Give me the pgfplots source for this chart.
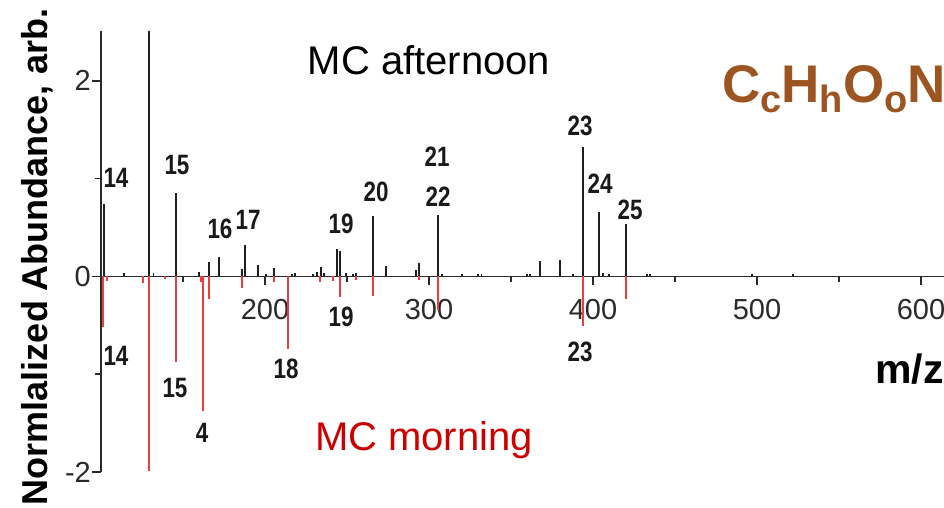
\documentclass[border=0pt]{standalone}
\usepackage{pgfplots}
\pgfplotsset{compat=1.18}
\usepackage{fontspec}
\setmainfont{Liberation Sans}
\newfontfamily\pk[FakeStretch=0.8]{Liberation Sans}
\definecolor{pkred}{RGB}{240,60,60}
\definecolor{mcred}{HTML}{CC0000}
\definecolor{chbrown}{HTML}{9C5520}
\definecolor{axgray}{HTML}{2A2A2A}
\begin{document}
\begin{tikzpicture}[x=1pt,y=1pt]
\path[use as bounding box] (0,0) rectangle (944,507);
\begin{axis}[
  at={(101pt,35pt)}, anchor=south west,
  scale only axis, width=843pt, height=441pt,
  xmin=100, xmax=614, ymin=-2, ymax=2.51,
  axis x line*=middle, axis y line*=left,
  xtick={200,300,400,500,600},
  minor xtick={150,250,350,450,550},
  ytick={-2,0,2}, minor ytick={-1,1},
  tick align=outside,
  major tick length=9pt, minor tick length=6pt,
  axis line style={axgray, line width=1.8pt},
  every tick/.style={axgray, line width=1.5pt},
  tick label style={font=\fontsize{29}{29}\selectfont, text=axgray},
  /pgf/number format/assume math mode=true,
  yticklabel style={inner sep=1pt},
  xticklabel style={inner sep=2pt, yshift=-12pt},
]
\addplot[ycomb, no marks, draw=black!88, line width=1.9pt] coordinates {
(101.8,0.74) (114,0.04) (129.5,2.51) (132,0.04) (145.5,0.85) (160,0.05)
(165.9,0.15) (171.7,0.20) (185.8,0.08) (187.8,0.32) (195.7,0.115)
(200.5,0.03) (205.7,0.09) (216.5,0.03) (218.3,0.04) (229.5,0.03)
(231.5,0.05) (234,0.10) (236,0.04) (243.7,0.28) (245.7,0.26)
(249.4,0.04) (253.5,0.03) (255.5,0.04) (266,0.62) (273.8,0.105)
(291.9,0.065) (293.9,0.14) (305.7,0.63) (308,0.03) (320,0.02)
(330,0.02) (332,0.02) (359.6,0.03) (361.6,0.03) (367.7,0.157)
(379.9,0.167) (388,0.02) (394.1,1.32) (403.9,0.66) (406,0.04)
(410,0.03) (419.9,0.54) (433,0.02) (435,0.02) (496.7,0.02) (522,0.02)
};
\addplot[ycomb, no marks, draw=pkred, line width=2.1pt] coordinates {
(101.4,-0.515) (103.5,-0.05) (125.4,-0.07) (129.5,-1.99) (139,-0.03)
(145.5,-0.876) (160.8,-0.06) (162.4,-1.378) (165.7,-0.23) (185.8,-0.116)
(205.7,-0.06) (213.8,-0.747) (233.5,-0.06) (241.6,-0.05) (245.7,-0.21)
(255.5,-0.04) (265.8,-0.2) (293.9,-0.04) (305.7,-0.34) (394.1,-0.51)
(419.9,-0.23)
};
\end{axis}
% peak labels
\begin{scope}[every node/.style={font=\pk\bfseries\fontsize{28}{28}\selectfont, text=black!90, inner sep=0pt}]
\node at (116,329) {14};
\node at (177,342) {15};
\node at (220,278) {16};
\node at (248,287) {17};
\node at (341,283) {19};
\node at (376,315) {20};
\node at (437,350) {21};
\node at (438,310) {22};
\node at (580,381) {23};
\node at (600,323) {24};
\node at (630,297) {25};
\node at (116,151) {14};
\node at (175,119) {15};
\node at (202,74) {4};
\node at (286,138) {18};
\node at (341,190) {19};
\node at (580,155) {23};
\end{scope}
\node[anchor=base, font=\fontsize{40}{40}\selectfont, inner sep=0pt] at (429,432) {MC afternoon};
\node[anchor=base, font=\fontsize{40}{40}\selectfont, text=mcred, inner sep=0pt] at (424,57) {MC morning};
\node[anchor=base west, inner sep=0pt, text=chbrown, font=\bfseries\fontsize{53}{53}\selectfont] at (722,404)
  {C\raisebox{-10pt}{\fontsize{38}{38}\selectfont c}H\raisebox{-10pt}{\fontsize{38}{38}\selectfont h}O\raisebox{-10pt}{\fontsize{38}{38}\selectfont o}N};
\node[anchor=base west, inner sep=0pt, font=\bfseries\fontsize{41}{41}\selectfont] at (875,124) {m/z};
\node[anchor=base, rotate=90, inner sep=0pt, font=\bfseries\fontsize{36}{36}\selectfont] at (47,250) {Normlalized Abundance, arb.};
\end{tikzpicture}
\end{document}
